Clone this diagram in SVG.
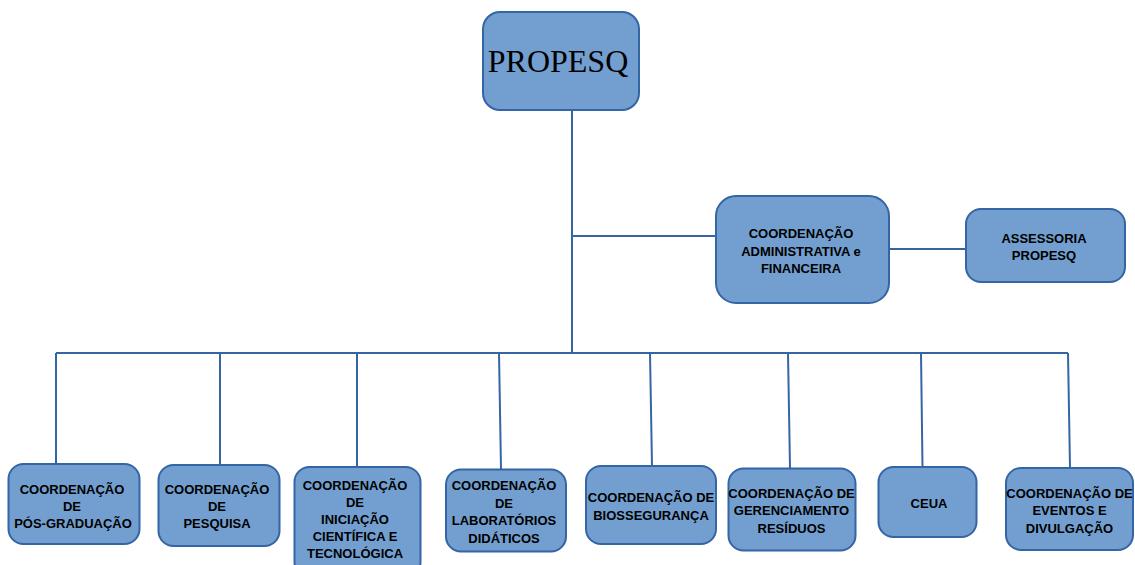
<svg xmlns="http://www.w3.org/2000/svg" width="1135" height="565" viewBox="0 0 1135 565">
  <style>
    .box { fill: #729fcf; stroke: #3465a4; stroke-width: 2; }
    .link { fill: none; stroke: #3465a4; stroke-width: 2; }
    .lbl { font-family: "Liberation Sans", Arial, sans-serif; font-weight: bold; font-size: 13px; fill: #000; text-anchor: middle; }
    .title { font-family: "Liberation Serif", "Times New Roman", serif; font-size: 32px; fill: #000; text-anchor: middle; }
  </style>
  <rect width="1135" height="565" fill="#ffffff"/>

  <g id="connectors">
    <path class="link" d="M572 110 V353"/>
    <path class="link" d="M572 236 H716"/>
    <path class="link" d="M889 249 H966"/>
    <path class="link" d="M56 353 H1068"/>
    <path class="link" d="M56 353 V464"/>
    <path class="link" d="M220 353 V465"/>
    <path class="link" d="M357 353 V467"/>
    <path class="link" d="M499 353 L501 469"/>
    <path class="link" d="M650 353 L652 466"/>
    <path class="link" d="M788 353 L790 468"/>
    <path class="link" d="M921 353 L922.5 467"/>
    <path class="link" d="M1068 353 L1070 468"/>
  </g>

  <g id="propesq">
    <rect class="box" x="483" y="12" width="156" height="98" rx="17"/>
    <text class="title" x="558" y="72">PROPESQ</text>
  </g>

  <g id="coord-admin">
    <rect class="box" x="716" y="196" width="173" height="107" rx="20"/>
    <text class="lbl" x="801" y="238">COORDENAÇÃO</text>
    <text class="lbl" x="801" y="255.5">ADMINISTRATIVA e</text>
    <text class="lbl" x="801" y="273">FINANCEIRA</text>
  </g>

  <g id="assessoria">
    <rect class="box" x="966" y="209" width="159" height="73" rx="15"/>
    <text class="lbl" x="1044" y="243">ASSESSORIA</text>
    <text class="lbl" x="1044" y="260">PROPESQ</text>
  </g>

  <g id="pos-graduacao">
    <rect class="box" x="8.5" y="464" width="131" height="80" rx="15"/>
    <text class="lbl" x="72" y="494">COORDENAÇÃO</text>
    <text class="lbl" x="72" y="510.5">DE</text>
    <text class="lbl" x="73" y="528">PÓS-GRADUAÇÃO</text>
  </g>

  <g id="pesquisa">
    <rect class="box" x="158.5" y="465" width="121" height="81" rx="15"/>
    <text class="lbl" x="217" y="494">COORDENAÇÃO</text>
    <text class="lbl" x="217" y="510.5">DE</text>
    <text class="lbl" x="217" y="528">PESQUISA</text>
  </g>

  <g id="iniciacao">
    <rect class="box" x="294.5" y="467" width="126" height="110" rx="15"/>
    <text class="lbl" x="355" y="489.5">COORDENAÇÃO</text>
    <text class="lbl" x="355" y="506.5">DE</text>
    <text class="lbl" x="355" y="524">INICIAÇÃO</text>
    <text class="lbl" x="355" y="541">CIENTÍFICA E</text>
    <text class="lbl" x="355" y="558">TECNOLÓGICA</text>
  </g>

  <g id="laboratorios">
    <rect class="box" x="446" y="469.5" width="120" height="82" rx="15"/>
    <text class="lbl" x="504" y="490">COORDENAÇÃO</text>
    <text class="lbl" x="504" y="507.5">DE</text>
    <text class="lbl" x="504" y="525">LABORATÓRIOS</text>
    <text class="lbl" x="504" y="542.5">DIDÁTICOS</text>
  </g>

  <g id="biosseguranca">
    <rect class="box" x="586" y="466" width="130" height="78" rx="15"/>
    <text class="lbl" x="651" y="501.5">COORDENAÇÃO DE</text>
    <text class="lbl" x="651" y="520">BIOSSEGURANÇA</text>
  </g>

  <g id="residuos">
    <rect class="box" x="728.5" y="468.5" width="127" height="82" rx="15"/>
    <text class="lbl" x="791.5" y="497.5">COORDENAÇÃO DE</text>
    <text class="lbl" x="791.5" y="515">GERENCIAMENTO</text>
    <text class="lbl" x="791.5" y="532.5">RESÍDUOS</text>
  </g>

  <g id="ceua">
    <rect class="box" x="878.5" y="467" width="98" height="70" rx="15"/>
    <text class="lbl" x="929" y="507.5">CEUA</text>
  </g>

  <g id="eventos">
    <rect class="box" x="1006" y="468" width="127" height="82" rx="15"/>
    <text class="lbl" x="1069.5" y="497.5">COORDENAÇÃO DE</text>
    <text class="lbl" x="1069.5" y="515">EVENTOS E</text>
    <text class="lbl" x="1069.5" y="532.5">DIVULGAÇÃO</text>
  </g>
</svg>
